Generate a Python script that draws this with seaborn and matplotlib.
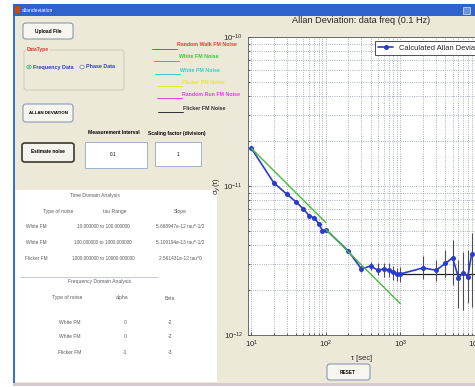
import matplotlib
matplotlib.use("Agg")
import numpy as np
import pandas as pd
import seaborn as sns
import matplotlib.pyplot as plt
from matplotlib.patches import Rectangle, FancyBboxPatch, Circle
from matplotlib.lines import Line2D

# ---- data ----
tau = [10, 20, 30, 40, 50, 60, 70, 80, 90, 100, 200, 300, 400, 500, 600, 700,
       800, 900, 1000, 2000, 3000, 4000, 5000, 6000, 7000, 8000, 9000]
adev = [1.79e-11, 1.05e-11, 8.8e-12, 7.8e-12, 7.0e-12, 6.3e-12, 6.1e-12, 5.6e-12,
        5.0e-12, 5.1e-12, 3.66e-12, 2.77e-12, 2.91e-12, 2.71e-12, 2.78e-12, 2.72e-12,
        2.65e-12, 2.55e-12, 2.57e-12, 2.82e-12, 2.72e-12, 3.02e-12, 3.3e-12, 2.43e-12,
        2.62e-12, 2.46e-12, 3.48e-12]
err_lo = [1.79e-11, 1.05e-11, 8.8e-12, 7.8e-12, 7.0e-12, 6.3e-12, 6.1e-12, 5.6e-12,
          5.0e-12, 5.1e-12, 3.66e-12, 2.63e-12, 2.72e-12, 2.52e-12, 2.46e-12, 2.44e-12,
          2.33e-12, 2.31e-12, 2.28e-12, 2.36e-12, 2.31e-12, 2.46e-12, 2.16e-12, 1.52e-12,
          1.47e-12, 1.64e-12, 1.54e-12]
err_hi = [1.79e-11, 1.05e-11, 8.8e-12, 7.8e-12, 7.0e-12, 6.3e-12, 6.1e-12, 5.6e-12,
          5.0e-12, 5.1e-12, 3.66e-12, 2.94e-12, 3.09e-12, 3.02e-12, 3.05e-12, 3.02e-12,
          2.90e-12, 2.82e-12, 2.86e-12, 3.38e-12, 3.21e-12, 3.70e-12, 4.32e-12, 3.18e-12,
          3.61e-12, 3.70e-12, 4.81e-12]

wfm1_tau = [10, 100]
wfm1_val = [1.79e-11, 5.67e-12]
wfm2_tau = [100, 1000]
wfm2_val = [5.11e-12, 1.62e-12]
ffm_tau = [1000, 10000]
ffm_val = [2.56e-12, 2.56e-12]

noise_names = ["Random Walk FM Noise", "White FM Noise", "White PM Noise",
               "Flicker PM Noise", "Random Run FM Noise", "Flicker FM Noise"]
noise_colors = ["#ff3333", "#33cc33", "#33cccc", "#e6e62e", "#e040e0", "#303030"]

time_header = ["Type of noise", "tau Range", "Slope"]
time_rows = [["White FM", "10.000000 to 100.000000", "5.668947e-12 tau^-1/2"],
             ["White FM", "100.000000 to 1000.000000", "5.109194e-13 tau^-1/2"],
             ["Flicker FM", "1000.000000 to 10000.000000", "2.561431e-12 tau^0"]]
freq_header = ["Type of noise", "alpha", "Beta"]
freq_rows = [["White FM", "0", "-2"], ["White FM", "0", "-2"], ["Flicker FM", "-1", "-3"]]

sns.set_theme(style="ticks")
plt.rcParams["font.family"] = ["Liberation Sans", "DejaVu Sans"]

W, H = 475, 387
fig = plt.figure(figsize=(W / 100, H / 100), dpi=100, facecolor="white")


def fx(x):
    return x / W


def fy(y):
    return 1 - y / H


def rect(x0, y0, x1, y1, fc, ec="none", lw=0.8, round_=False, z=1):
    if round_:
        p = FancyBboxPatch((fx(x0), fy(y1)), fx(x1 - x0), (y1 - y0) / H,
                           boxstyle="round,pad=0,rounding_size=0.006",
                           transform=fig.transFigure, fc=fc, ec=ec, lw=lw, zorder=z)
    else:
        p = Rectangle((fx(x0), fy(y1)), fx(x1 - x0), (y1 - y0) / H,
                      transform=fig.transFigure, fc=fc, ec=ec, lw=lw, zorder=z)
    fig.patches.append(p)


def txt(x, y, s, size=4.0, color="black", weight="normal", ha="center", **kw):
    fig.text(fx(x), fy(y), s, fontsize=size, color=color, weight=weight,
             ha=ha, va="center", **kw)


narrow = ["Liberation Sans Narrow", "Liberation Sans", "DejaVu Sans"]

# window
rect(13, 4, 476, 384, "#ece9d8", z=0)
rect(13, 4, 476, 16, "#2f62cc", z=1)
rect(13, 16, 15, 384, "#3a6fd6", z=1)
rect(13, 383, 476, 386, "#d8c8d0", z=1)
rect(15, 6, 20, 13, "#c84a10", z=2)
txt(22, 10, "allandeviation", size=3.6, color="white", ha="left", family=narrow)
rect(463, 7, 470, 14, "#6d93e0", ec="#dfe8fa", lw=0.5, z=2)

# buttons
rect(23, 23, 73, 39, "#f6f5f0", ec="#8c9bb2", round_=True, z=2)
txt(48, 31, "Upload File", size=3.5, weight="bold", family=narrow)
rect(23, 104, 73, 122, "#f6f5f0", ec="#8c9bb2", round_=True, z=2)
txt(48, 113, "ALLAN DEVIATION", size=3.2, weight="bold", family=narrow)
rect(22, 143, 74, 162, "#f4f3ee", ec="#3c3a2a", lw=1.2, round_=True, z=2)
txt(48, 152, "Estimate noise", size=3.4, weight="bold", family=narrow)
rect(327, 364, 370, 380, "#f6f5f0", ec="#8c9bb2", round_=True, z=2)
txt(348, 372, "RESET", size=3.4, weight="bold", family=narrow)

# data type group
rect(24, 50, 124, 90, "none", ec="#cfcdbe", lw=0.8, round_=True, z=2)
rect(26, 46, 50, 53, "#ece9d8", z=3)
txt(27, 49.5, "DataType", size=3.6, color="#e83030", weight="bold", ha="left", family=narrow)
fig.patches.append(Circle((fx(29), fy(67)), 2.2 / W, transform=fig.transFigure,
                          fc="white", ec="#3db26e", lw=0.6, zorder=3))
fig.patches.append(Circle((fx(29), fy(67)), 1.0 / W, transform=fig.transFigure,
                          fc="#3db26e", ec="none", zorder=4))
txt(33, 67, "Frequency Data", size=3.9, color="#2d3bb8", weight="bold", ha="left", family=narrow)
fig.patches.append(Circle((fx(82), fy(67)), 2.2 / W, transform=fig.transFigure,
                          fc="white", ec="#7d8aa6", lw=0.6, zorder=3))
txt(86, 67, "Phase Data", size=3.9, color="#2d3bb8", weight="bold", ha="left", family=narrow)

# noise legend
leg_y = [49, 61, 74, 86, 98, 112]
leg_x0 = [152, 154, 155, 157, 157, 158]
for name, col, yy, x0 in zip(noise_names, noise_colors, leg_y, leg_x0):
    fig.lines.append(Line2D([fx(x0), fx(x0 + 25)], [fy(yy), fy(yy)], transform=fig.transFigure,
                            color=col, lw=0.7, zorder=3))
    txt(x0 + 25, yy - 4, name, size=3.8, color=col, weight="bold", ha="left", family=narrow)

# entry boxes
txt(114, 133, "Measurement Interval", size=3.6, weight="bold", family=narrow)
rect(85, 142, 147, 168, "white", ec="#9fb4cf", lw=0.7, z=2)
txt(113, 155, "0.1", size=3.4)
txt(177, 133, "Scaling factor (division)", size=3.6, weight="bold", family=narrow)
rect(155, 142, 201, 166, "white", ec="#9fb4cf", lw=0.7, z=2)
txt(178, 155, "1", size=3.4)

# results panel
rect(15, 190, 217, 382, "white", z=1)
gray = "#5a5a5a"
txt(95, 195, "Time Domain Analysis", size=3.6, color=gray, family=narrow)
for xx, s in zip([58, 115, 180], time_header):
    txt(xx, 211, s, size=3.6, color=gray, family=narrow)
for yy, row in zip([226, 242, 259], time_rows):
    for xx, s in zip([36, 103, 180], row):
        txt(xx, yy, s, size=3.4, color=gray, family=narrow)
fig.lines.append(Line2D([fx(20), fx(158)], [fy(277), fy(277)], transform=fig.transFigure,
                        color="#b9c3d6", lw=0.6, zorder=3))
txt(99, 282, "Frequency Domain Analysis", size=3.6, color=gray, family=narrow)
for xx, s in zip([67, 122, 170], freq_header):
    txt(xx, 298, s, size=3.6, color=gray, family=narrow)
for yy, row in zip([322, 337, 353], freq_rows):
    for xx, s in zip([70, 125, 170], row):
        txt(xx, yy, s, size=3.6, color=gray, family=narrow)

# ---- Allan deviation plot ----
ax = fig.add_axes([fx(248), fy(335), fx(475 - 248), (335 - 37) / H])
ax.set_zorder(10)
ax.set_facecolor("white")
df = pd.DataFrame({"tau": tau, "adev": adev})
yerr = np.array([np.array(adev) - np.array(err_lo), np.array(err_hi) - np.array(adev)])
ax.errorbar(tau, adev, yerr=yerr, fmt="none", ecolor="#4e4e52", elinewidth=0.8,
            capsize=0, zorder=3)
sns.lineplot(data=df, x="tau", y="adev", ax=ax, color="#2a3cc8", marker="o",
             markersize=3.6, markeredgewidth=0, lw=1.2, zorder=4,
             label="Calculated Allan Deviation")
sns.lineplot(x=wfm1_tau, y=wfm1_val, ax=ax, color="#4cbb3c", lw=1.0, zorder=5, legend=False)
sns.lineplot(x=wfm2_tau, y=wfm2_val, ax=ax, color="#4cbb3c", lw=1.0, zorder=5, legend=False)
sns.lineplot(x=ffm_tau, y=ffm_val, ax=ax, color="#202020", lw=0.9, zorder=2, legend=False)

ax.set_xscale("log")
ax.set_yscale("log")
ax.set_xlim(10 ** 0.955, 1e4)
ax.set_ylim(1e-12, 1e-10)
ax.grid(True, which="both", linestyle=":", color="#8e99ad", lw=0.6)
ax.tick_params(which="both", direction="in", labelsize=5.6, length=2, width=0.5)
ax.tick_params(which="minor", length=1.2)
ax.tick_params(axis="x", pad=3)
for sp in ax.spines.values():
    sp.set_linewidth(0.6)
    sp.set_color("#555555")
ax.set_xlabel("τ [sec]", fontsize=5.4, labelpad=3)
ax.set_ylabel("σ$_y$(τ)", fontsize=5.4, labelpad=0)
ax.set_title("Allan Deviation: data freq (0.1 Hz)", fontsize=6.6, pad=10)
leg = ax.legend(loc="upper left", bbox_to_anchor=(0.56, 0.985), fontsize=5.4,
                frameon=True, fancybox=False, framealpha=1, edgecolor="#333333",
                handlelength=2.0, borderpad=0.4, borderaxespad=0)
leg.get_frame().set_linewidth(0.6)

fig.savefig("out.png", dpi=100, facecolor="white")
